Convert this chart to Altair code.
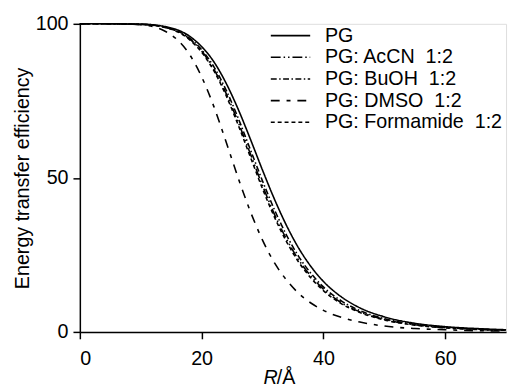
import altair as alt
import pandas as pd

R = [0, 5, 10, 14, 18, 20, 22, 24, 26, 28, 30, 32, 34, 36, 38, 40, 43, 46, 50, 55, 60, 65, 70]
PG = [100, 100, 99.9, 99.1, 96.0, 92.6, 87.7, 80.8, 72.3, 62.6, 52.5, 42.9, 34.3, 27.0, 21.1, 16.4, 11.3, 7.8, 4.9, 2.8, 1.7, 1.1, 0.7]
AcCN = [100, 100, 99.8, 98.9, 95.1, 91.2, 85.3, 77.5, 68.1, 57.8, 47.5, 38.0, 29.9, 23.2, 18.0, 13.9, 9.4, 6.5, 4.1, 2.3, 1.4, 0.9, 0.6]
BuOH = [100, 100, 99.9, 98.9, 95.4, 91.6, 86.1, 78.6, 69.4, 59.2, 49.0, 39.5, 31.2, 24.3, 18.9, 14.6, 10.0, 6.9, 4.3, 2.5, 1.5, 0.9, 0.6]
DMSO = [100, 100, 99.7, 97.6, 90.1, 82.8, 73.2, 61.8, 50.0, 39.1, 29.8, 22.3, 16.7, 12.4, 9.3, 7.0, 4.7, 3.2, 1.9, 1.1, 0.7, 0.4, 0.3]
Formamide = [100, 100, 99.8, 98.8, 94.9, 90.8, 84.8, 76.8, 67.2, 56.8, 46.5, 37.1, 29.1, 22.5, 17.4, 13.4, 9.1, 6.3, 3.9, 2.2, 1.3, 0.8, 0.5]

NB = "\u00a0"
series_names = ["PG", "PG: AcCN" + NB + NB + "1:2", "PG: BuOH" + NB + NB + "1:2",
                "PG: DMSO" + NB + NB + "1:2", "PG: Formamide" + NB + NB + "1:2"]
series_values = [PG, AcCN, BuOH, DMSO, Formamide]
dashes = [[1, 0], [10, 3, 1.5, 3, 1.5, 3], [6, 2.5, 1.5, 2.5], [9, 7, 4, 7], [4, 3]]

rows = []
for name, vals in zip(series_names, series_values):
    for r, v in zip(R, vals):
        rows.append({"R": r, "E": v, "series": name})
df = pd.DataFrame(rows)

FONT = "Liberation Sans"

lines = alt.Chart(df).mark_line(color="black", strokeWidth=1.6, interpolate="monotone").encode(
    x=alt.X("R:Q", scale=alt.Scale(domain=[0, 70], nice=False),
            axis=alt.Axis(values=[0, 20, 40, 60], title=None, grid=False,
                          tickSize=7, labelPadding=10, domainWidth=1.5, tickWidth=1.5,
                          domainColor="black", tickColor="black", labelColor="black",
                          labelFont=FONT, labelFontSize=20)),
    y=alt.Y("E:Q", scale=alt.Scale(domain=[0, 100], nice=False),
            axis=alt.Axis(values=[0, 50, 100], title="Energy transfer efficiency", grid=False,
                          tickSize=7, labelPadding=5, domainWidth=1.5, tickWidth=1.5,
                          domainColor="black", tickColor="black", labelColor="black",
                          labelFont=FONT, labelFontSize=20, titleFont=FONT,
                          titleFontSize=20, titleFontWeight="normal", titleColor="black",
                          titlePadding=3)),
    strokeDash=alt.StrokeDash("series:N", sort=series_names,
                              scale=alt.Scale(domain=series_names, range=dashes),
                              legend=alt.Legend(title=None, orient="none", legendX=203, legendY=1,
                                                symbolType="M-2,0L2,0", symbolSize=400,
                                                symbolStrokeWidth=1.6, symbolStrokeColor="black",
                                                labelFont=FONT, labelFontSize=20, labelColor="black",
                                                labelLimit=400, labelOffset=24, rowPadding=1,
                                                padding=0)),
    detail="series:N",
)

title_df = pd.DataFrame({"label": ["R", "/Å"], "part": ["a", "b"]})
t_r = alt.Chart(title_df[title_df.part == "a"]).mark_text(
    font=FONT, fontSize=20, fontStyle="italic", align="right", baseline="alphabetic", color="black"
).encode(text="label:N", x=alt.value(201), y=alt.value(366))
t_a = alt.Chart(title_df[title_df.part == "b"]).mark_text(
    font=FONT, fontSize=20, align="left", baseline="alphabetic", color="black"
).encode(text="label:N", x=alt.value(200), y=alt.value(366))

chart = alt.layer(lines, t_r, t_a).properties(
    width=433, height=313,
    autosize=alt.AutoSizeParams(type="none"),
    padding={"left": 73, "top": 13, "right": 4, "bottom": 60},
).configure_view(stroke=None).configure(background="white")

chart.save("out.html", embed_options={"renderer": "svg", "actions": False})
